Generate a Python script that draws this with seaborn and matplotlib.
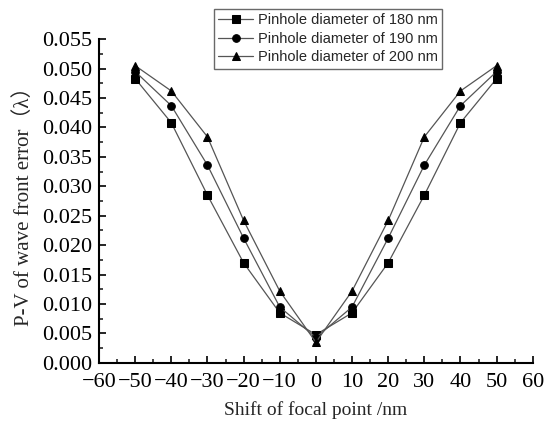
import matplotlib
matplotlib.use("Agg")
import matplotlib.pyplot as plt
import seaborn as sns
import pandas as pd
from matplotlib.ticker import MultipleLocator

# Values
shift = [-50, -40, -30, -20, -10, 0, 10, 20, 30, 40, 50]
pv_180 = [0.0483, 0.0408, 0.0285, 0.0170, 0.0085, 0.0048, 0.0085, 0.0170, 0.0285, 0.0408, 0.0483]
pv_190 = [0.0495, 0.0437, 0.0336, 0.0212, 0.0095, 0.0043, 0.0095, 0.0212, 0.0336, 0.0437, 0.0495]
pv_200 = [0.0505, 0.0462, 0.0384, 0.0242, 0.0122, 0.0035, 0.0122, 0.0242, 0.0384, 0.0462, 0.0505]
labels = ["Pinhole diameter of 180 nm", "Pinhole diameter of 190 nm", "Pinhole diameter of 200 nm"]

frames = []
for lab, vals in zip(labels, [pv_180, pv_190, pv_200]):
    frames.append(pd.DataFrame({"shift": shift, "pv": vals, "series": lab}))
df = pd.concat(frames, ignore_index=True)

sns.set_style("ticks")
plt.rcParams["font.family"] = ["Liberation Serif", "Noto Sans CJK SC", "DejaVu Serif"]

fig = plt.figure(figsize=(5.47, 4.21), dpi=100)
ax = fig.add_axes([0.181, 0.138, 0.793, 0.769])

sns.lineplot(data=df, x="shift", y="pv", hue="series", style="series",
             markers=["s", "o", "^"], dashes=False,
             palette=["#555555"] * 3, linewidth=0.9,
             markersize=5.5, markerfacecolor="black", markeredgecolor="black",
             ax=ax)

ax.set_xlim(-60, 60)
ax.set_ylim(0, 0.055)
ax.xaxis.set_major_locator(MultipleLocator(10))
ax.xaxis.set_minor_locator(MultipleLocator(5))
ax.yaxis.set_major_locator(MultipleLocator(0.005))
ax.yaxis.set_minor_locator(MultipleLocator(0.0025))
ax.set_yticklabels([f"{v:.3f}" for v in ax.get_yticks()])
ax.set_xticklabels([f"{int(v)}".replace("-", "\u2212") for v in ax.get_xticks()])
ax.tick_params(axis="both", which="major", direction="in", length=5, width=1.2,
               labelsize=16, colors="black")
ax.tick_params(axis="x", which="major", pad=7)
ax.tick_params(axis="y", which="major", pad=5)
ax.tick_params(axis="both", which="minor", direction="in", length=3, width=1.2)
for sp in ["top", "right"]:
    ax.spines[sp].set_visible(False)
for sp in ["left", "bottom"]:
    ax.spines[sp].set_linewidth(1.5)
    ax.spines[sp].set_color("black")

ax.set_xlabel("Shift of focal point /nm", fontsize=14, labelpad=7)
ax.set_ylabel("P-V of wave front error\uff08\u03bb\uff09", fontsize=15, labelpad=6)

handles, labs = ax.get_legend_handles_labels()
leg = ax.legend(handles, labs, loc="upper left", bbox_to_anchor=(214 / 547, 1 - 9 / 421),
                bbox_transform=fig.transFigure, frameon=True, fancybox=False,
                prop={"family": "Liberation Sans", "size": 10.5},
                handlelength=2.4, handletextpad=0.3, borderpad=0.3, labelspacing=0.3,
                borderaxespad=0)
leg.get_frame().set_edgecolor("#444444")
leg.get_frame().set_linewidth(1.0)

fig.savefig("out.png", dpi=100)
